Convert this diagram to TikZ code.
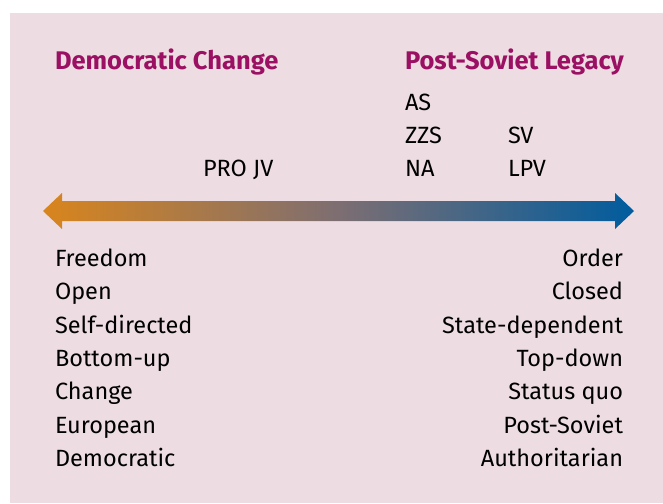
\documentclass[tikz,border=0pt]{standalone}
\usepackage{fontspec}
\setmainfont{Fira Sans}
\begin{document}
\begin{tikzpicture}[x=1pt,y=-1pt,
  every node/.style={inner sep=0pt,outer sep=0pt},
  heading/.style={font=\fontsize{25.5}{28}\selectfont\bfseries,text=titlecol},
  label/.style={font=\fontsize{23.5}{26}\selectfont,text=black},
  lbl/.style={label,anchor=base west},
  rbl/.style={label,anchor=base east}]
\definecolor{panel}{HTML}{EDDDE3}
\definecolor{titlecol}{HTML}{9B1062}
\definecolor{warm}{HTML}{D9851C}
\definecolor{midtone}{HTML}{7D6E72}
\definecolor{cool}{HTML}{005C9E}
\useasboundingbox (0,0) rectangle (663,503);
\fill[panel] (10,13) rectangle (663,503);

% column headings
\node[heading,anchor=base west] (dem) at (55,70) {Democratic Change};
\node[heading,anchor=base west] (psl) at (405,70) {Post-Soviet Legacy};

% parties placed along the scale
\node[lbl] (as)  at (405,110) {AS};
\node[lbl] (zzs) at (405,143) {ZZS};
\node[lbl] (na)  at (405,176) {NA};
\node[lbl] (sv)  at (508,143) {SV};
\node[lbl] (lpv) at (508,176) {LPV};
\node[lbl] (pro) at (203,176) {PRO JV};

% double-headed gradient arrow (middle color must come last)
\shade[left color=warm,right color=cool,middle color=midtone]
  (43,211) -- (62,193) -- (62,201) -- (615,201) -- (615,193) -- (634,211)
  -- (615,229) -- (615,221) -- (62,221) -- (62,229) -- cycle;

% left-hand attributes
\node[lbl] (l1) at (55,266) {Freedom};
\node[lbl] (l2) at (55,299) {Open};
\node[lbl] (l3) at (55,333) {Self-directed};
\node[lbl] (l4) at (55,366) {Bottom-up};
\node[lbl] (l5) at (55,399) {Change};
\node[lbl] (l6) at (55,433) {European};
\node[lbl] (l7) at (55,466) {Democratic};

% right-hand attributes
\node[rbl] (r1) at (623,266) {Order};
\node[rbl] (r2) at (623,299) {Closed};
\node[rbl] (r3) at (623,333) {State-dependent};
\node[rbl] (r4) at (623,366) {Top-down};
\node[rbl] (r5) at (623,399) {Status quo};
\node[rbl] (r6) at (623,433) {Post-Soviet};
\node[rbl] (r7) at (623,466) {Authoritarian};
\end{tikzpicture}
\end{document}
